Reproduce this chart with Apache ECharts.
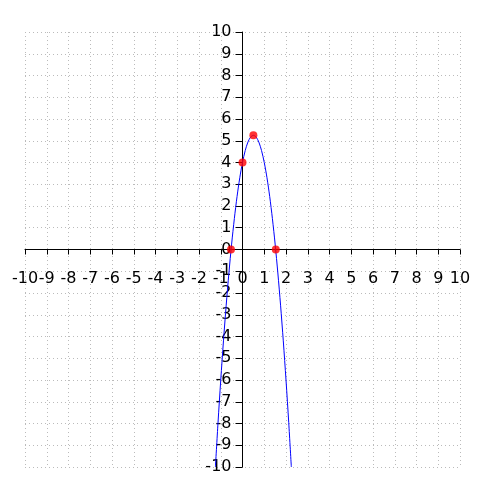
<!DOCTYPE html>
<html>
<head>
<meta charset="utf-8">
<script src="https://cdn.jsdelivr.net/npm/echarts@6/dist/echarts.min.js"></script>
<style>
html,body{margin:0;padding:0;background:#fff;}
#content{width:500px;height:500px;}
</style>
</head>
<body>
<div id="content"></div>
<script>
// curve
var curveX = [-1.245, -1.125, -1.0, -0.875, -0.75, -0.625, -0.5, -0.375, -0.25, -0.125, 0, 0.125, 0.25, 0.375, 0.5,
              0.625, 0.75, 0.875, 1.0, 1.125, 1.25, 1.375, 1.5, 1.625, 1.75, 1.875, 2.0, 2.125, 2.245];
var curveY = [-10, -7.95, -6, -4.2, -2.56, -1.08, 0.25, 1.42, 2.44, 3.3, 4, 4.55, 4.94, 5.17, 5.25,
              5.17, 4.94, 4.55, 4, 3.3, 2.44, 1.42, 0.25, -1.08, -2.56, -4.2, -6, -7.95, -10];
// red marked points
var dotX = [-0.53, 0, 0.5, 1.53];
var dotY = [0, 4, 5.25, 0];

var W = 500, H = 500;
var gLeft = 25, gRight = 40, gTop = 32, gBottom = 33;

var myChart = echarts.init(document.getElementById('content'), null, {renderer: 'canvas'});

function pairs(xs, ys) {
    var out = [];
    for (var i = 0; i < xs.length; i++) out.push([xs[i], ys[i]]);
    return out;
}

// onZero doesn't carry the labels along in v6, so shift the whole axis to the middle with offset
function makeAxis(margin, offset, tickLen) {
    return {
        type: 'value',
        min: -10,
        max: 10,
        interval: 1,
        offset: offset,
        axisLine: {show: true, onZero: false, lineStyle: {color: '#000', width: 1}},
        axisTick: {show: true, length: tickLen, lineStyle: {color: '#000'}},
        splitLine: {show: true, lineStyle: {color: '#bbb', type: [1, 3], width: 1}},
        axisLabel: {color: '#000', fontSize: 16, fontFamily: 'DejaVu Sans', margin: margin}
    };
}

var option = {
    animation: false,
    grid: {left: gLeft, right: gRight, top: gTop, bottom: gBottom, containLabel: false, outerBoundsMode: 'none'},
    xAxis: makeAxis(21, -(H - gTop - gBottom) / 2, 5),
    yAxis: makeAxis(11, -(W - gLeft - gRight) / 2, 7),
    series: [
        {
            type: 'line',
            data: pairs(curveX, curveY),
            smooth: 0.3,
            showSymbol: false,
            lineStyle: {color: '#0000ff', width: 1},
            z: 2
        },
        {
            type: 'scatter',
            data: pairs(dotX, dotY),
            symbolSize: 8,
            itemStyle: {color: '#ff0000'},
            z: 3
        }
    ]
};
myChart.setOption(option);
</script>
</body>
</html>
